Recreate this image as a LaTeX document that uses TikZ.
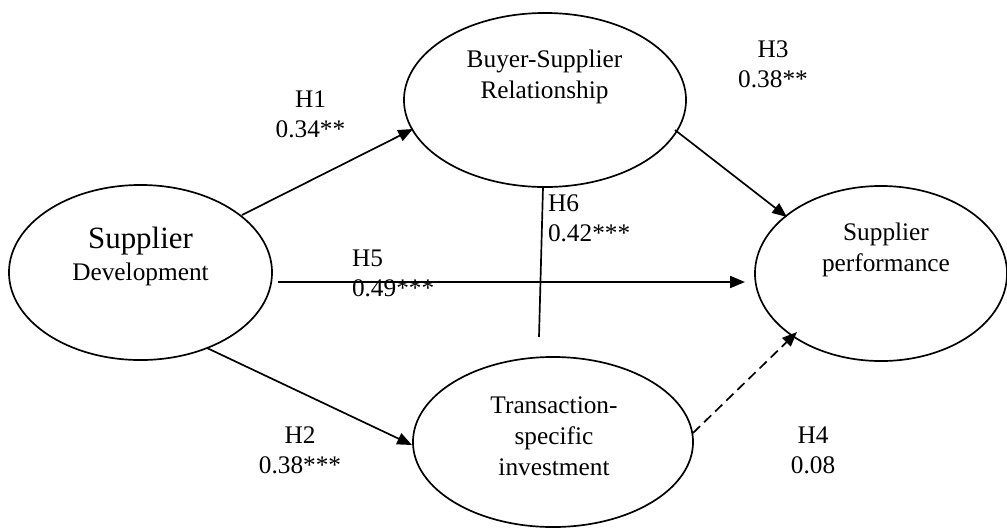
\documentclass[tikz,border=0pt]{standalone}
\usepackage{fontspec}
\setmainfont{Liberation Serif}
\usetikzlibrary{arrows.meta,calc,shapes.geometric}
\begin{document}
\begin{tikzpicture}[x=0.025cm,y=-0.025cm,
  every node/.style={inner sep=0pt,outer sep=0pt},
  construct/.style={draw,ellipse,line width=1.2pt},
  ctext/.style={align=center,font=\fontsize{18}{21.5}\selectfont},
  lbl/.style={align=center,font=\fontsize{18}{21.3}\selectfont},
  lbll/.style={align=left,anchor=west,font=\fontsize{18}{21.3}\selectfont},
  arr/.style={line width=1.2pt,-{Triangle[length=10.5pt,width=8.5pt]}},
  plainline/.style={line width=1.2pt}]
\useasboundingbox (0,0) rectangle (1007,528);
% constructs
\node[construct,minimum width=6.575cm,minimum height=4.375cm] (sd) at (140.5,272.5) {};
\node[construct,minimum width=7.05cm,minimum height=4.35cm] (bsr) at (545,100) {};
\node[construct,minimum width=7cm,minimum height=4.25cm] (tsi) at (553,442) {};
\node[construct,minimum width=6.3cm,minimum height=4.375cm] (sp) at (881,273.5) {};
% construct texts
\node[align=center,font=\fontsize{18}{22.8}\selectfont] (sdt) at (140.5,256) {{\fontsize{22}{22.8}\selectfont Supplier}\\Development};
\node[ctext] (bsrt) at (544.5,77) {Buyer-Supplier\\Relationship};
\node[ctext,font=\fontsize{18}{22}\selectfont] (tsit) at (554,436) {Transaction-\\specific\\investment};
\node[ctext] (spt) at (886,250) {Supplier\\performance};
% labels
\node[lbl] (l1) at (310.5,114) {H1\\0.34**};
\node[lbl] (l3) at (773,64) {H3\\0.38**};
\node[lbll] (l6) at (548,218) {H6\\0.42***};
\node[lbll] (l5) at (352,273) {H5\\0.49***};
\node[lbl] (l2) at (300,450) {H2\\0.38***};
\node[lbl] (l4) at (813,450) {H4\\0.08};
% connectors
\draw[arr] ($(sd.center)+(101.5,-57.5)$) -- ($(bsr.center)+(-132,29)$);
\draw[arr] ($(sd.center)+(66.5,75.5)$) -- ($(tsi.center)+(-141,3)$);
\draw[arr] ($(bsr.center)+(130,30)$) -- ($(sp.center)+(-94,-56.5)$);
\draw[arr,dash pattern=on 7pt off 4pt] ($(tsi.center)+(140,-9)$) -- ($(sp.center)+(-84,58.5)$);
\draw[arr] ($(sd.east)+(6,9.5)$) -- ($(sp.west)+(-10,8.5)$);
\coordinate (h6e) at (539,337);
\draw[plainline] ($(bsr.south)+(-2,0)$) -- (h6e);
\end{tikzpicture}
\end{document}
